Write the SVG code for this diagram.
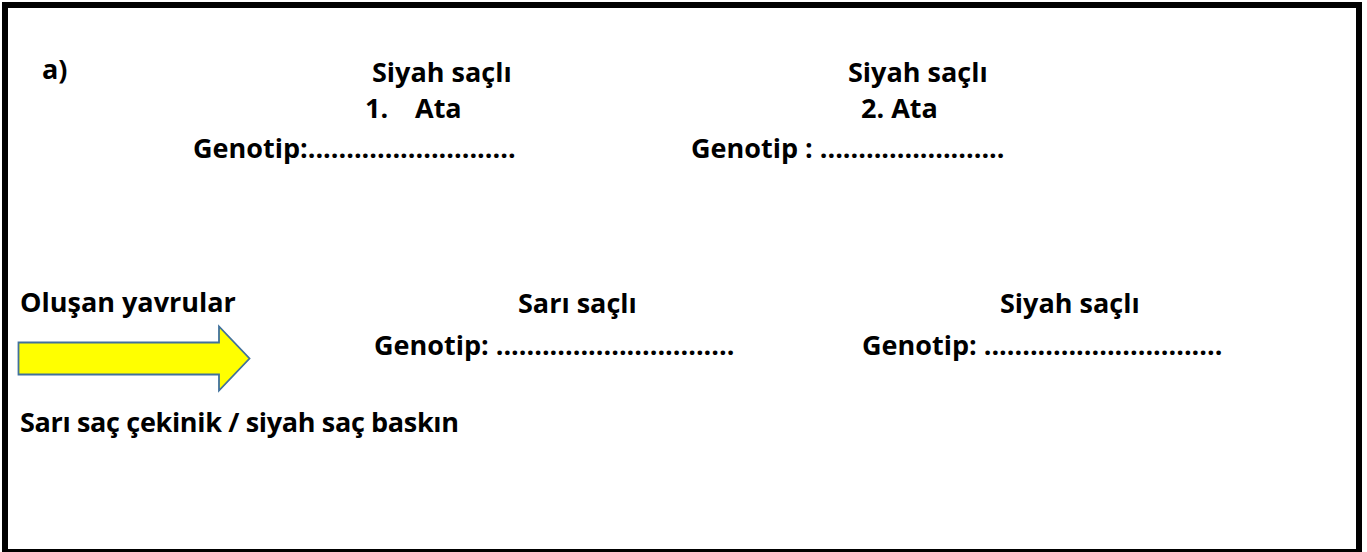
<svg xmlns="http://www.w3.org/2000/svg" width="1367" height="552" viewBox="0 0 1367 552">
<style>
text{font-family:"Open Sans","Liberation Sans",sans-serif;font-weight:bold;font-size:27px;fill:#000}
.frame{fill:#fff;stroke:#000;stroke-width:6}
.arrow{fill:#ffff00;stroke:#41719c;stroke-width:1.8;stroke-linejoin:miter}
</style>
<rect x="0" y="0" width="1367" height="552" fill="#fff"/>
<rect class="frame" x="5" y="5" width="1354" height="547"/>
<g id="label-a"><text x="42" y="79">a)</text></g>
<g id="parent1">
<text x="372" y="82">Siyah saçlı</text>
<text x="365" y="118">1.<tspan x="415">Ata</tspan></text>
<text x="193" y="158">Genotip:...........................</text>
</g>
<g id="parent2">
<text x="848" y="82">Siyah saçlı</text>
<text x="861" y="118">2. Ata</text>
<text x="691" y="158">Genotip : ........................</text>
</g>
<g id="offspring-label"><text x="20" y="312">Oluşan yavrular</text></g>
<g id="connectors">
<path class="arrow" d="M18.5,342.5 L219,342.5 L219,326.5 L249.5,358.5 L219,390.5 L219,374.5 L18.5,374.5 Z"/>
</g>
<g id="offspring1">
<text x="518" y="313">Sarı saçlı</text>
<text x="374" y="355">Genotip: ...............................</text>
</g>
<g id="offspring2">
<text x="1000" y="313">Siyah saçlı</text>
<text x="862" y="355">Genotip: ...............................</text>
</g>
<g id="note"><text x="20" y="432" textLength="439">Sarı saç çekinik / siyah saç baskın</text></g>
</svg>
